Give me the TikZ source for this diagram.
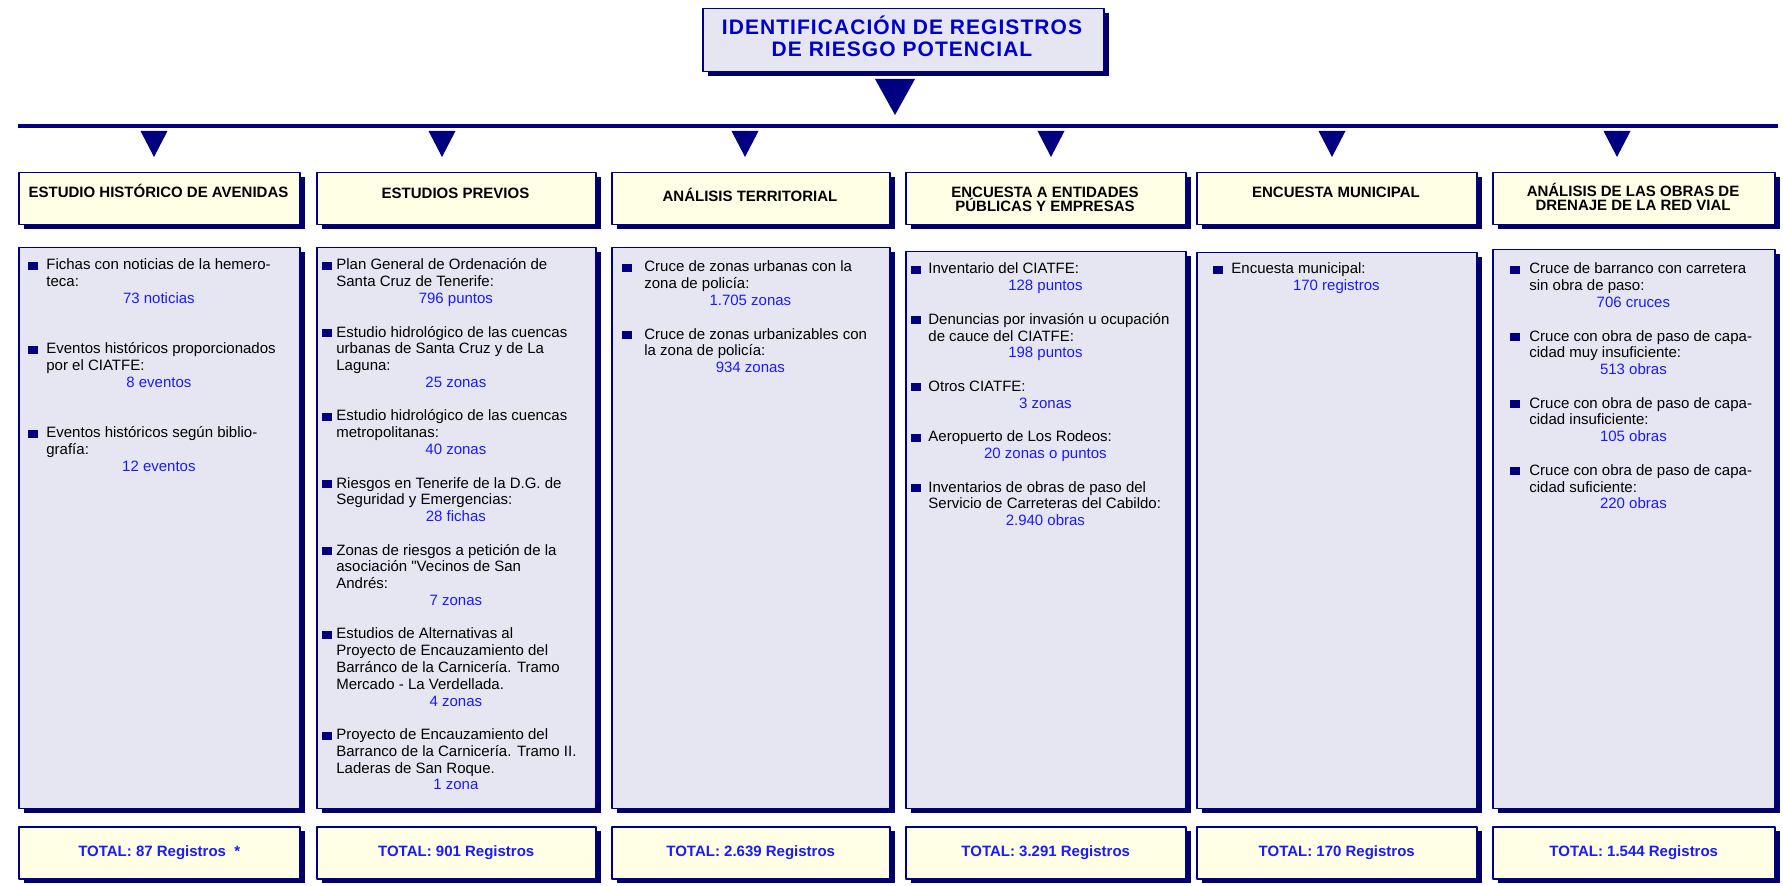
\documentclass[tikz,border=0pt]{standalone}
\usepackage{fontspec}
\setmainfont{Liberation Sans}
\newfontfamily\listfont{Liberation Sans}
\newfontfamily\titlefont[LetterSpace=5]{Liberation Sans}
\usetikzlibrary{shadows}
\definecolor{navyline}{RGB}{0,0,128}
\definecolor{navyshadow}{RGB}{0,0,102}
\definecolor{panelfill}{RGB}{230,230,242}
\definecolor{headfill}{RGB}{255,255,230}
\definecolor{valblue}{RGB}{26,26,255}
\definecolor{titleblue}{RGB}{0,0,204}
% list lines: bullet item, follow-on line, centred value, blank line
\newcommand\bsq{\textcolor{navyline}{\rule{5pt}{4pt}}}
\newcommand\itm[1]{\hbox{\hskip\bulx\rlap{\bsq}\hskip\dimexpr\txtx-\bulx\relax #1}}
\newcommand\lne[1]{\hbox{\hskip\txtx\relax #1}}
\newcommand\val[1]{\hbox to\hsize{\hss\textcolor{valblue}{#1}\hss}}
\newcommand\gap{\hbox{}}
\newcommand\colbox[4]{\vtop{\hsize=#1\relax\def\bulx{#2}\def\txtx{#3}\lineskiplimit=-\maxdimen #4}}
\newcommand\twolines[2]{\vtop{\lineskiplimit=-\maxdimen\halign{\hfil##\hfil\cr#1\cr#2\cr}}}
\begin{document}
\begin{tikzpicture}[x=0.5pt,y=-0.5pt,line join=round,
	panel/.style={draw=navyline,line width=0.75pt,anchor=north west,inner sep=0pt,
		drop shadow={shadow xshift=2.5pt,shadow yshift=-2pt,fill=navyshadow,opacity=1}},
	titlebox/.style={panel,fill=panelfill,minimum width=200.5pt,minimum height=31.5pt},
	headbox/.style={panel,fill=headfill,minimum height=26pt},
	listbox/.style={panel,fill=panelfill},
	sumbox/.style={panel,fill=headfill,minimum height=26pt,text=valblue,font=\bfseries\fontsize{7.5}{9}\selectfont},
	headtxt/.style={anchor=base,inner sep=0pt,font=\bfseries\fontsize{7.5}{7}\selectfont},
	listtxt/.style={anchor=base west,inner sep=0pt,font=\listfont\fontsize{7.5}{8.385}\selectfont},
	arrowfill/.style={fill=navyline}]
	\useasboundingbox (0,0) rectangle (1783,886);
	
	% title and main arrow
	\node[titlebox] (ttlbox) at (702,8) {};
	\node[anchor=base,inner sep=0pt,text=titleblue,font=\titlefont\bfseries\fontsize{10.5}{11}\selectfont] (ttl) at (902,35)
		{\twolines{IDENTIFICACIÓN DE REGISTROS}{DE RIESGO POTENCIAL}};
	\fill[arrowfill] (875,79) -- (915,79) -- (895,115) -- cycle;
	
	% distribution line
	\coordinate (busL) at (18,126);
	\coordinate (busR) at (1778,126);
	\draw[navyline,line width=1.75pt] (busL) -- (busR);
	\foreach \x in {154,442,745,1051,1332,1617}
		\fill[arrowfill] (\x-13.5,131) -- (\x+13.5,131) -- (\x,157) -- cycle;
	
	% headers
	\node[headbox,minimum width=140.5pt] (hd1) at (18,172) {};
	\node[headbox,minimum width=139.5pt] (hd2) at (316,172) {};
	\node[headbox,minimum width=139pt] (hd3) at (611,172) {};
	\node[headbox,minimum width=140pt] (hd4) at (905,172) {};
	\node[headbox,minimum width=140pt] (hd5) at (1196,172) {};
	\node[headbox,minimum width=141pt] (hd6) at (1492,172) {};
	\node[headtxt] (hd1t) at (158.5,198) {ESTUDIO HISTÓRICO DE AVENIDAS};
	\node[headtxt] (hd2t) at (455.5,199) {ESTUDIOS PREVIOS};
	\node[headtxt] (hd3t) at (750,202) {ANÁLISIS TERRITORIAL};
	\node[headtxt] (hd4t) at (1045,198) {\twolines{ENCUESTA A ENTIDADES}{PÚBLICAS Y EMPRESAS}};
	\node[headtxt] (hd5t) at (1336,198) {ENCUESTA MUNICIPAL};
	\node[headtxt] (hd6t) at (1633,197) {\twolines{ANÁLISIS DE LAS OBRAS DE}{DRENAJE DE LA RED VIAL}};
	
	% lists
	\node[listbox,minimum width=140.5pt,minimum height=280.5pt] (ls1) at (18,247) {};
	\node[listbox,minimum width=139.5pt,minimum height=280.5pt] (ls2) at (316,247) {};
	\node[listbox,minimum width=139pt,minimum height=280.5pt] (ls3) at (611,247) {};
	\node[listbox,minimum width=140pt,minimum height=278.5pt] (ls4) at (905,251) {};
	\node[listbox,minimum width=140pt,minimum height=278pt] (ls5) at (1196,252) {};
	\node[listbox,minimum width=141pt,minimum height=279.5pt] (ls6) at (1492,249) {};
	
	\node[listtxt] (ls1t) at (18,270) {\colbox{140.5pt}{5pt}{14pt}{%
		\itm{Fichas con noticias de la hemero-}
		\lne{teca:}
		\val{73 noticias}
		\gap\gap
		\itm{Eventos históricos proporcionados}
		\lne{por el CIATFE:}
		\val{8 eventos}
		\gap\gap
		\itm{Eventos históricos según biblio-}
		\lne{grafía:}
		\val{12 eventos}}};
	\node[listtxt] (ls2t) at (316,270) {\colbox{139.5pt}{3pt}{10pt}{%
		\itm{Plan General de Ordenación de}
		\lne{Santa Cruz de Tenerife:}
		\val{796 puntos}
		\gap
		\itm{Estudio hidrológico de las cuencas}
		\lne{urbanas de Santa Cruz y de La}
		\lne{Laguna:}
		\val{25 zonas}
		\gap
		\itm{Estudio hidrológico de las cuencas}
		\lne{metropolitanas:}
		\val{40 zonas}
		\gap
		\itm{Riesgos en Tenerife de la D.G. de}
		\lne{Seguridad y Emergencias:}
		\val{28 fichas}
		\gap
		\itm{Zonas de riesgos a petición de la}
		\lne{asociación "Vecinos de San}
		\lne{Andrés:}
		\val{7 zonas}
		\gap
		\itm{Estudios de Alternativas al}
		\lne{Proyecto de Encauzamiento del}
		\lne{Barránco de la Carnicería. Tramo}
		\lne{Mercado - La Verdellada.}
		\val{4 zonas}
		\gap
		\itm{Proyecto de Encauzamiento del}
		\lne{Barranco de la Carnicería. Tramo II.}
		\lne{Laderas de San Roque.}
		\val{1 zona}}};
	\node[listtxt] (ls3t) at (611,272) {\colbox{139pt}{5.5pt}{16.5pt}{%
		\itm{Cruce de zonas urbanas con la}
		\lne{zona de policía:}
		\val{1.705 zonas}
		\gap
		\itm{Cruce de zonas urbanizables con}
		\lne{la zona de policía:}
		\val{934 zonas}}};
	\node[listtxt] (ls4t) at (905,274) {\colbox{140pt}{3pt}{11.5pt}{%
		\itm{Inventario del CIATFE:}
		\val{128 puntos}
		\gap
		\itm{Denuncias por invasión u ocupación}
		\lne{de cauce del CIATFE:}
		\val{198 puntos}
		\gap
		\itm{Otros CIATFE:}
		\val{3 zonas}
		\gap
		\itm{Aeropuerto de Los Rodeos:}
		\val{20 zonas o puntos}
		\gap
		\itm{Inventarios de obras de paso del}
		\lne{Servicio de Carreteras del Cabildo:}
		\val{2.940 obras}}};
	\node[listtxt] (ls5t) at (1196,274) {\colbox{140pt}{8.5pt}{17.5pt}{%
		\itm{Encuesta municipal:}
		\val{170 registros}}};
	\node[listtxt] (ls6t) at (1492,274) {\colbox{141pt}{9pt}{18.5pt}{%
		\itm{Cruce de barranco con carretera}
		\lne{sin obra de paso:}
		\val{706 cruces}
		\gap
		\itm{Cruce con obra de paso de capa-}
		\lne{cidad muy insuficiente:}
		\val{513 obras}
		\gap
		\itm{Cruce con obra de paso de capa-}
		\lne{cidad insuficiente:}
		\val{105 obras}
		\gap
		\itm{Cruce con obra de paso de capa-}
		\lne{cidad suficiente:}
		\val{220 obras}}};
	
	% totals
	\node[sumbox,minimum width=140.5pt] (tot1) at (18,826) {TOTAL: 87 Registros\ \ *};
	\node[sumbox,minimum width=139.5pt] (tot2) at (316,826) {TOTAL: 901 Registros};
	\node[sumbox,minimum width=139pt] (tot3) at (611,826) {TOTAL: 2.639 Registros};
	\node[sumbox,minimum width=140pt] (tot4) at (905,826) {TOTAL: 3.291 Registros};
	\node[sumbox,minimum width=140pt] (tot5) at (1196,826) {TOTAL: 170 Registros};
	\node[sumbox,minimum width=141pt] (tot6) at (1492,826) {TOTAL: 1.544 Registros};
\end{tikzpicture}
\end{document}
